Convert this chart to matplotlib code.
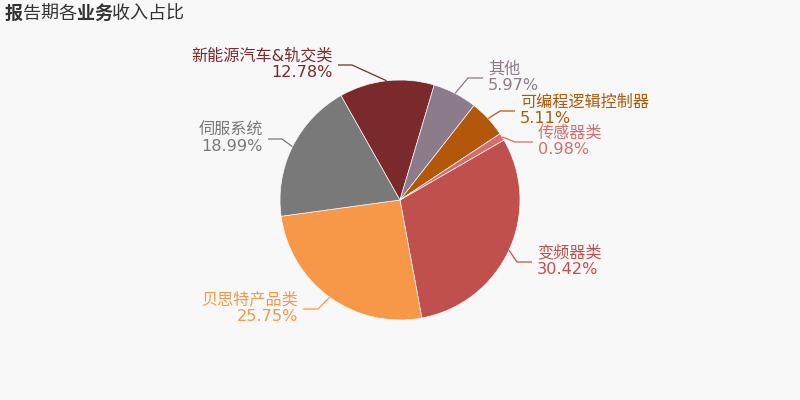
import matplotlib
matplotlib.use("Agg")
import matplotlib.pyplot as plt
import numpy as np

plt.rcParams['font.family'] = ['DejaVu Sans', 'Noto Sans CJK SC']

# Data (clockwise order starting from 变频器类)
names = ["变频器类", "贝思特产品类", "伺服系统", "新能源汽车&轨交类", "其他", "可编程逻辑控制器", "传感器类"]
values = [30.42, 25.75, 18.99, 12.78, 5.97, 5.11, 0.98]
colors = ["#c0504e", "#f79848", "#797979", "#7b2a2b", "#8c7b8a", "#b3580b", "#d36e6d"]
title_parts = [("报", "bold"), ("告期各", "normal"), ("业务", "bold"), ("收入占比", "normal")]

# Layout (pixel coords, y downward): elbow point, horizontal end, side
label_layout = {
    "变频器类": (517, 262, 532, "left"),
    "贝思特产品类": (318, 309, 303, "right"),
    "伺服系统": (282, 139, 268, "right"),
    "新能源汽车&轨交类": (352, 65, 338, "right"),
    "其他": (468, 78, 483, "left"),
    "可编程逻辑控制器": (500, 111, 515, "left"),
    "传感器类": (515, 142, 533, "left"),
}

W, H = 800, 400
fig = plt.figure(figsize=(8, 4), dpi=100, facecolor="#f8f8f8")
ax = fig.add_axes([0, 0, 1, 1])
ax.set_facecolor("#f8f8f8")

cx, cy, R = 400, 200, 120
start_deg = 30  # matplotlib angle (from +x, ccw) where first wedge starts
wedges, _ = ax.pie(values, colors=colors, startangle=start_deg, counterclock=False,
                   center=(cx, H - cy), radius=R, frame=True,
                   wedgeprops=dict(linewidth=0.5, edgecolor="#f8f8f8"))
ax.set_xlim(0, W)
ax.set_ylim(0, H)
ax.set_aspect("equal")
ax.axis("off")

fs = 11.6
for w, name, val, col in zip(wedges, names, values, colors):
    mid = np.deg2rad((w.theta1 + w.theta2) / 2)
    sx = cx + R * np.cos(mid)
    sy = (H - cy) + R * np.sin(mid)
    ex, ey, hx, side = label_layout[name]
    ey_d = H - ey
    ax.plot([sx, ex, hx], [sy, ey_d, ey_d], color=col, lw=0.9, solid_capstyle="butt")
    tx = hx + 5 if side == "left" else hx - 5
    ax.text(tx, ey_d + 1, f"{name}\n{val:.2f}%", color=col, fontsize=fs,
            ha=side, va="center", ma=side, linespacing=1.1)

# Title with mixed weights, one character per fixed advance
step = 17.8
i = 0
for txt, wt in title_parts:
    for ch in txt:
        fig.text((5 + i * step) / W, 1 - 14 / H, ch, fontsize=13, fontweight=wt,
                 color="#333333", ha="left", va="center")
        i += 1

fig.savefig("out.png", dpi=100, facecolor=fig.get_facecolor())
